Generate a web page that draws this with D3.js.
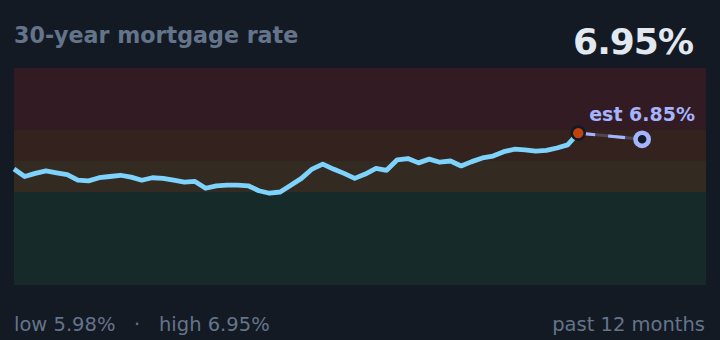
<!DOCTYPE html>
<html><head><meta charset="utf-8">
<script src="https://cdn.jsdelivr.net/npm/d3@7"></script>
<style>
html,body{margin:0;padding:0;background:#141a23;}
svg{display:block;font-family:"DejaVu Sans",sans-serif;}
</style></head>
<body><svg id="c" width="720" height="340"></svg>
<script>
// weekly 30-year mortgage rate, past 12 months (oldest -> newest)
const rates = [6.37,6.25,6.30,6.34,6.31,6.28,6.19,6.18,6.23,6.25,6.27,6.24,6.19,6.23,6.22,6.19,6.16,6.17,6.06,6.10,
  6.11,6.11,6.10,6.02,5.98,6.00,6.11,6.22,6.37,6.45,6.37,6.30,6.22,6.29,6.38,6.35,6.52,6.54,6.47,6.53,
  6.48,6.50,6.42,6.49,6.55,6.58,6.65,6.69,6.68,6.66,6.67,6.71,6.76,6.95];
const estRate = 6.85;
const estWeeksAhead = 6;
const totalWeeks = 65;
const bandEdges = [4.5, 6.0, 6.5, 7.0, 8.0];
const bandColors = ["#172a2a", "#332a22", "#34221f", "#331b24"];
const title = "30-year mortgage rate";
const footerLeft = ["low 5.98%", "·", "high 6.95%"];
const footerRight = "past 12 months";

const svg = d3.select("#c");
const W = 720, H = 340;
const m = {l:14, r:14, t:68, b:55};
const x = d3.scaleLinear().domain([0, totalWeeks]).range([m.l, W - m.r]);
const y = d3.scaleLinear().domain([bandEdges[0], bandEdges[bandEdges.length-1]]).range([H - m.b, m.t]);

// bands
svg.append("g").selectAll("rect").data(d3.range(bandEdges.length-1)).join("rect")
  .attr("x", x(0)).attr("width", x(totalWeeks) - x(0))
  .attr("y", i => y(bandEdges[i+1])).attr("height", i => y(bandEdges[i]) - y(bandEdges[i+1]))
  .attr("fill", i => bandColors[i]);

// title
svg.append("text").attr("x", 14).attr("y", 43).attr("fill", "#64748b")
  .attr("font-size", 22.2).attr("font-weight", "bold").text(title);
const last = rates[rates.length-1];
svg.append("text").attr("x", 693).attr("y", 54).attr("text-anchor", "end").attr("fill", "#e2e8f0")
  .attr("font-size", 36).attr("font-weight", "bold").attr("letter-spacing", -1)
  .text(last.toFixed(2) + "%");

// line
const line = d3.line().x((d, i) => x(i)).y(d => y(d));
svg.append("path").datum(rates).attr("d", line).attr("fill", "none")
  .attr("stroke", "#7dd3fc").attr("stroke-width", 4.8).attr("stroke-linejoin", "round");

// estimate connector
const li = rates.length - 1, ei = li + estWeeksAhead;
const estSeg = [[li, last], [ei, estRate]];
const segLine = d3.line().x(d => x(d[0])).y(d => y(d[1]));
svg.append("path").datum(estSeg).attr("d", segLine).attr("stroke", "#a5b4fc").attr("stroke-opacity", 0.25)
  .attr("stroke-width", 3).attr("fill", "none");
svg.append("path").datum(estSeg).attr("d", segLine).attr("stroke", "#a5b4fc")
  .attr("stroke-width", 3.2).attr("stroke-dasharray", "17,13").attr("fill", "none");

// last point
svg.append("circle").attr("cx", x(li)).attr("cy", y(last)).attr("r", 6.5)
  .attr("fill", "#c2410c").attr("stroke", "#141a23").attr("stroke-width", 2.6);
// estimate point
svg.append("circle").attr("cx", x(ei)).attr("cy", y(estRate)).attr("r", 6.6)
  .attr("fill", "#141a23").attr("stroke", "#a5b4fc").attr("stroke-width", 4.6);
svg.append("text").attr("x", 695).attr("y", 121).attr("text-anchor", "end").attr("fill", "#a5b4fc")
  .attr("font-size", 19).attr("font-weight", "bold").text("est " + estRate.toFixed(2) + "%");

// footer
const fy = 331, fs = 19.5;
svg.append("text").attr("x", 14).attr("y", fy).attr("fill", "#64748b").attr("font-size", fs).text(footerLeft[0]);
svg.append("text").attr("x", 137).attr("y", fy).attr("text-anchor", "middle").attr("fill", "#64748b").attr("font-size", fs).text(footerLeft[1]);
svg.append("text").attr("x", 159).attr("y", fy).attr("fill", "#64748b").attr("font-size", fs).text(footerLeft[2]);
svg.append("text").attr("x", 705).attr("y", fy).attr("text-anchor", "end").attr("fill", "#64748b").attr("font-size", fs).text(footerRight);
</script></body></html>
